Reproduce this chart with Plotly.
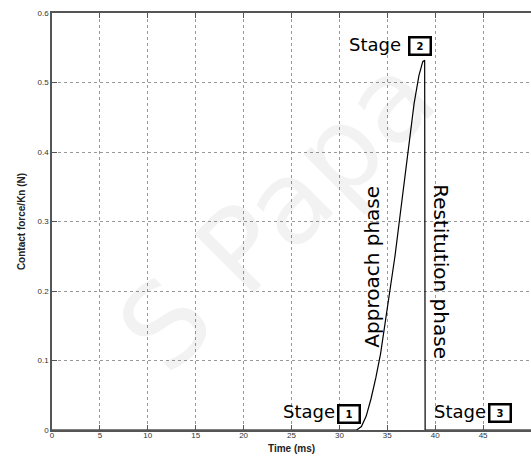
import plotly.graph_objects as go

# Data
time_ms = [0, 31.8, 32.3, 32.8, 33.3, 33.8, 34.3, 34.8, 35.3, 35.8, 36.3, 36.8,
           37.3, 37.8, 38.3, 38.7, 38.9, 38.95, 50]
force = [0, 0, 0.005, 0.02, 0.045, 0.075, 0.11, 0.155, 0.2, 0.25, 0.305, 0.36,
         0.42, 0.47, 0.51, 0.53, 0.532, 0, 0]

x_ticks = [0, 5, 10, 15, 20, 25, 30, 35, 40, 45, 50]
x_tick_labels = ["0", "5", "10", "15", "20", "25", "30", "35", "40", "45", "50"]
y_ticks = [0, 0.1, 0.2, 0.3, 0.4, 0.5, 0.6]
y_tick_labels = ["0", "0.1", "0.2", "0.3", "0.4", "0.5", "0.6"]

stage_labels = ["1", "2", "3"]
stage_word_pos = [(26.8, 0.026), (33.7, 0.554), (42.6, 0.026)]
stage_box_pos = [(31.0, 0.023), (38.4, 0.553), (46.8, 0.024)]

fig = go.Figure()
fig.add_trace(go.Scatter(x=time_ms, y=force, mode="lines",
                         line=dict(color="black", width=1.2),
                         showlegend=False, hoverinfo="skip"))
# top axis (mirror ticks only, no right line)
fig.add_trace(go.Scatter(x=[0, 50], y=[0, 0], xaxis="x2", mode="lines",
                         line=dict(width=0), showlegend=False, hoverinfo="skip"))

tickfont = dict(family="Liberation Sans", size=8, color="#333")
fig.update_layout(
    width=531, height=459,
    margin=dict(l=52, r=0, t=13, b=29),
    paper_bgcolor="white", plot_bgcolor="white",
    xaxis=dict(range=[0, 50], tickvals=x_ticks, ticktext=x_tick_labels,
               ticks="inside", ticklen=5, tickcolor="#555", tickwidth=1,
               showline=True, linecolor="#555", linewidth=1.5,
               showgrid=True, gridcolor="#999", gridwidth=1, griddash="dot",
               zeroline=False, tickfont=tickfont, ticklabelstandoff=-3,
               title=dict(text="<b>Time (ms)</b>", standoff=6,
                          font=dict(family="Liberation Sans", size=10, color="#222"))),
    xaxis2=dict(range=[0, 50], overlaying="x", side="top", tickvals=x_ticks,
                ticks="inside", ticklen=5, tickcolor="#555", showticklabels=False,
                showline=True, linecolor="#555", linewidth=1.5, showgrid=False,
                zeroline=False),
    yaxis=dict(range=[0, 0.6], tickvals=y_ticks, ticktext=y_tick_labels,
               ticks="inside", ticklen=5, tickcolor="#555", tickwidth=1,
               showline=True, linecolor="#555", linewidth=1.5,
               showgrid=True, gridcolor="#999", gridwidth=1, griddash="dot",
               zeroline=False, tickfont=tickfont,
               title=dict(text="<b>Contact force/Kn (N)</b>", standoff=10,
                          font=dict(family="Liberation Sans", size=10, color="#222"))),
)

ann = []
# watermark
ann.append(dict(text="S Papa", xref="paper", yref="paper", x=0.47, y=0.52,
                showarrow=False, textangle=-45,
                font=dict(family="DejaVu Sans", size=115, color="rgba(0,0,0,0.05)")))
for lab, (wx, wy), (bx, by) in zip(stage_labels, stage_word_pos, stage_box_pos):
    ann.append(dict(text="Stage", x=wx, y=wy, xref="x", yref="y", showarrow=False,
                    font=dict(family="DejaVu Sans", size=18, color="black")))
    ann.append(dict(text="<b>" + lab + "</b>", x=bx, y=by, xref="x", yref="y",
                    showarrow=False, width=17, height=13, borderpad=1,
                    bordercolor="black", borderwidth=2.5, bgcolor="white",
                    font=dict(family="DejaVu Sans", size=10, color="black")))
ann.append(dict(text="Approach phase", x=33.4, y=0.235, xref="x", yref="y",
                showarrow=False, textangle=-90,
                font=dict(family="DejaVu Sans", size=20, color="black")))
ann.append(dict(text="Restitution phase", x=40.6, y=0.227, xref="x", yref="y",
                showarrow=False, textangle=90,
                font=dict(family="DejaVu Sans", size=20, color="black")))
fig.update_layout(annotations=ann)

fig.write_html("out.html")
